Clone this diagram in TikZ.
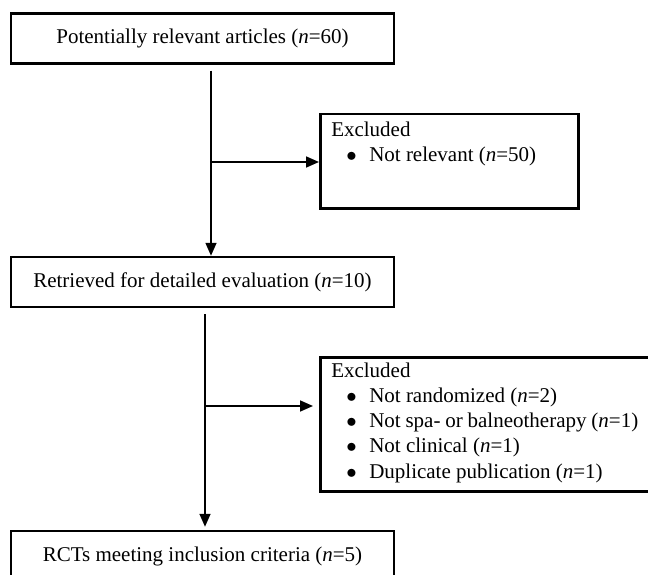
\documentclass[tikz,border=0pt]{standalone}
\usepackage{fontspec}
\setmainfont{Liberation Serif}
\usetikzlibrary{arrows.meta}

\newcommand{\flowfont}{\fontsize{21}{25.2}\selectfont}
\newcommand{\exitem}[1]{\hspace*{15pt}\makebox[23pt][l]{$\bullet$}#1}

\tikzset{
  stagebox/.style={draw, line width=2.5pt, minimum width=383pt, minimum height=50pt,
    inner sep=0pt, font=\flowfont},
  exbox/.style={draw, line width=2.5pt, inner xsep=11pt, inner ysep=0pt,
    anchor=north west, font=\flowfont},
  flowline/.style={line width=1.6pt, -{Triangle[length=13pt,width=11pt]}},
}

\begin{document}
\begin{tikzpicture}[x=1pt,y=-1pt]
\useasboundingbox (0,0) rectangle (648,575);
\clip (0,0) rectangle (648,575);

% stages
\node[stagebox] (found) at (202.5,38.5) {Potentially relevant articles (\textit{n}=60)};
\node[stagebox] (retrieved) at (202.5,282) {Retrieved for detailed evaluation (\textit{n}=10)};
\node[stagebox] (included) at (202.5,556) {RCTs meeting inclusion criteria (\textit{n}=5)};

% exclusions
\node[exbox, minimum width=258pt, minimum height=94pt] (exA) at (319,113)
  {\parbox[c][94pt][t]{236pt}{\raggedright
   \rule{0pt}{22pt}Excluded\\
   \exitem{Not relevant (\textit{n}=50)}}};
\node[exbox, minimum width=329pt, minimum height=134pt] (exB) at (319,356)
  {\parbox[c][134pt][t]{307pt}{\raggedright
   \rule{0pt}{20pt}Excluded\\
   \exitem{Not randomized (\textit{n}=2)}\\
   \exitem{Not spa- or balneotherapy (\textit{n}=1)}\\
   \exitem{Not clinical (\textit{n}=1)}\\
   \exitem{Duplicate publication (\textit{n}=1)}}};

% branch points
\coordinate (splitA) at (211,162);
\coordinate (splitB) at (205,406);

\draw[flowline, shorten <=6pt] (found.south -| splitA) -- (retrieved.north -| splitA);
\draw[flowline] (splitA) -- (exA.west |- splitA);
\draw[flowline, shorten <=6pt, shorten >=3pt] (retrieved.south -| splitB) -- (included.north -| splitB);
\draw[flowline, shorten >=6pt] (splitB) -- (exB.west |- splitB);

\end{tikzpicture}
\end{document}
